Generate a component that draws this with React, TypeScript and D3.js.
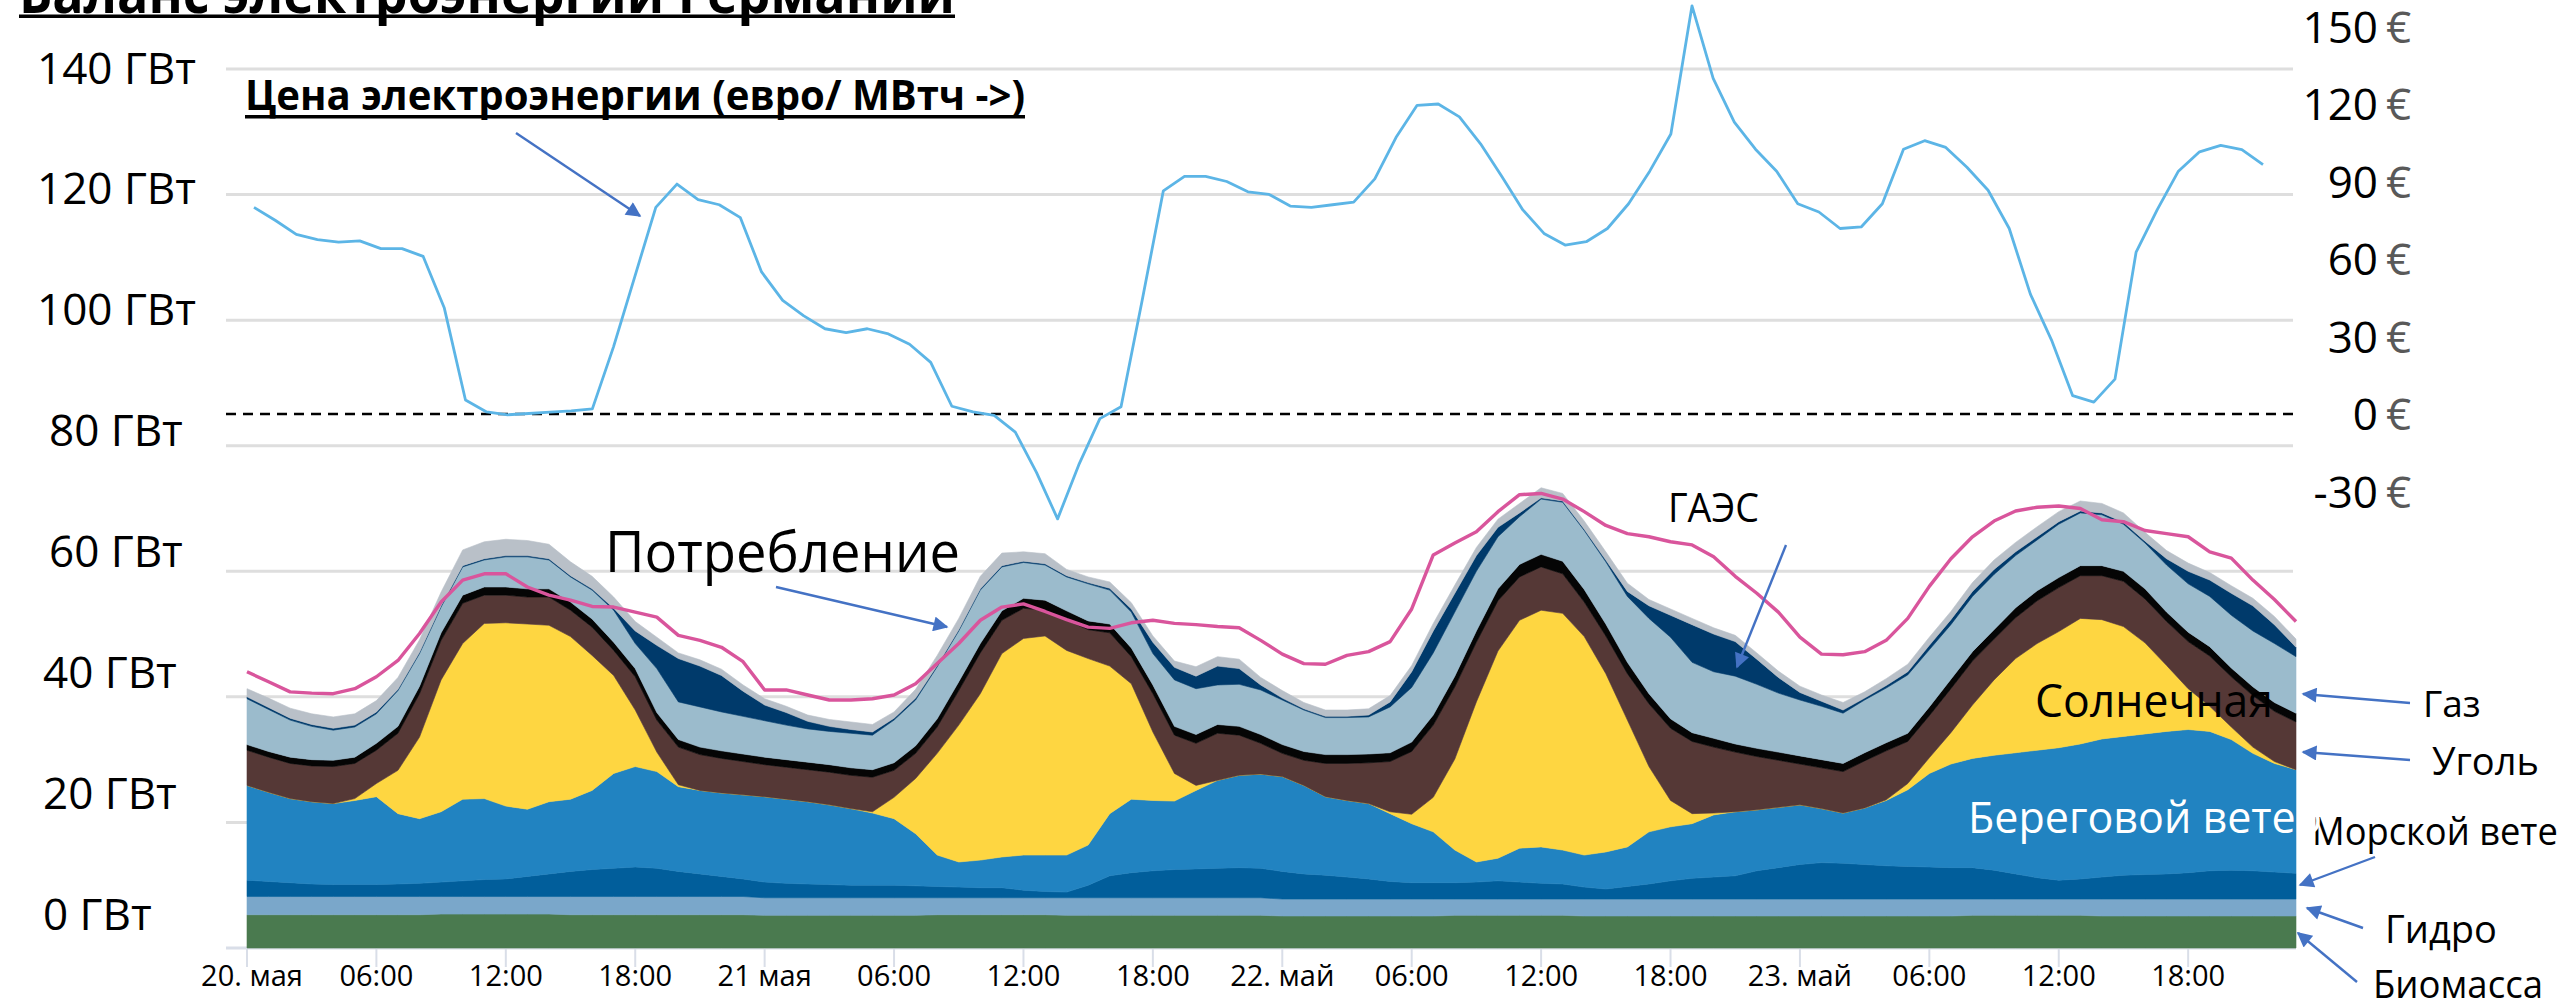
import React from 'react';
import * as d3 from 'd3';

// hourly data, 20.05 00:00 .. 23.05 23:00 (GW)
const hours = d3.range(96);

const biomass = [
  5.3, 5.3, 5.3, 5.3, 5.3, 5.3, 5.3, 5.3, 5.3, 5.4, 5.4, 5.4, 5.4, 5.4, 5.4, 5.3, 5.3, 5.3, 5.3, 5.3, 5.3, 5.3, 5.3, 5.3,
  5.2, 5.2, 5.2, 5.2, 5.2, 5.2, 5.2, 5.2, 5.3, 5.3, 5.3, 5.3, 5.3, 5.3, 5.2, 5.2, 5.2, 5.2, 5.2, 5.2, 5.2, 5.2, 5.2, 5.2,
  5.1, 5.1, 5.1, 5.1, 5.1, 5.1, 5.1, 5.1, 5.2, 5.2, 5.2, 5.2, 5.2, 5.2, 5.1, 5.1, 5.1, 5.1, 5.1, 5.1, 5.1, 5.1, 5.1, 5.1,
  5.1, 5.1, 5.1, 5.1, 5.1, 5.1, 5.1, 5.1, 5.2, 5.2, 5.2, 5.2, 5.2, 5.2, 5.1, 5.1, 5.1, 5.1, 5.1, 5.1, 5.1, 5.1, 5.1, 5.1,
];
const hydro = [
  2.9, 2.9, 2.9, 2.9, 2.9, 2.9, 2.9, 2.9, 2.9, 2.8, 2.8, 2.8, 2.8, 2.8, 2.8, 2.9, 2.9, 2.9, 2.9, 2.9, 2.9, 2.9, 2.9, 2.9,
  2.8, 2.8, 2.8, 2.8, 2.8, 2.8, 2.8, 2.8, 2.7, 2.7, 2.7, 2.7, 2.7, 2.7, 2.8, 2.8, 2.8, 2.8, 2.8, 2.8, 2.8, 2.8, 2.8, 2.8,
  2.7, 2.7, 2.7, 2.7, 2.7, 2.7, 2.7, 2.7, 2.6, 2.6, 2.6, 2.6, 2.6, 2.6, 2.7, 2.7, 2.7, 2.7, 2.7, 2.7, 2.7, 2.7, 2.7, 2.7,
  2.7, 2.7, 2.7, 2.7, 2.7, 2.7, 2.7, 2.7, 2.6, 2.6, 2.6, 2.6, 2.6, 2.6, 2.7, 2.7, 2.7, 2.7, 2.7, 2.7, 2.7, 2.7, 2.7, 2.7,
];
const offshore = [
  2.6, 2.4, 2.2, 2.0, 1.9, 1.9, 1.9, 2.0, 2.1, 2.3, 2.5, 2.7, 2.8, 3.2, 3.6, 4.0, 4.3, 4.5, 4.7, 4.5, 4.0, 3.6, 3.2, 2.8,
  2.5, 2.3, 2.2, 2.1, 2.0, 2.0, 2.0, 1.9, 1.8, 1.7, 1.6, 1.6, 1.2, 1.0, 0.9, 2.0, 3.5, 4.0, 4.3, 4.5, 4.6, 4.7, 4.8, 4.7,
  4.4, 4.0, 3.8, 3.5, 3.2, 2.8, 2.6, 2.6, 2.6, 2.7, 2.9, 2.7, 2.5, 2.4, 1.9, 1.6, 2.0, 2.4, 2.9, 3.3, 3.5, 3.7, 4.5, 5.0,
  5.5, 5.8, 5.7, 5.5, 5.3, 5.2, 5.1, 5.0, 5.0, 4.6, 4.0, 3.4, 3.0, 3.2, 3.5, 3.8, 3.9, 4.0, 4.2, 4.5, 4.6, 4.5, 4.3, 4.1,
];
const onshore = [
  15.1, 14.2, 13.4, 13.1, 12.9, 13.4, 14.0, 11.2, 10.3, 11.2, 13.0, 12.9, 11.6, 10.7, 11.5, 11.5, 12.6, 15.1, 16.0, 15.4, 13.5, 13.3, 13.3, 13.4,
  13.6, 13.4, 13.1, 12.7, 12.2, 11.5, 10.6, 8.3, 5.0, 4.0, 4.4, 4.9, 5.6, 5.8, 5.9, 6.4, 9.9, 11.7, 11.2, 10.9, 12.5, 14.0, 14.7, 15.0,
  15.1, 14.1, 12.5, 12.2, 12.0, 10.8, 9.4, 8.1, 5.2, 3.2, 3.6, 5.4, 5.8, 5.4, 5.1, 5.9, 6.3, 8.3, 8.6, 8.7, 9.9, 10.2, 9.7, 9.6,
  9.5, 8.6, 8.0, 9.0, 10.4, 12.2, 14.9, 16.5, 17.4, 18.3, 19.3, 20.3, 21.1, 21.5, 22.0, 22.1, 22.4, 22.7, 22.8, 22.2, 20.8, 18.7, 17.3, 16.5,
];
const solar = [
  0, 0, 0, 0, 0, 0.3, 2.1, 6.9, 13.0, 21.0, 24.8, 27.9, 29.2, 29.5, 28.1, 25.9, 21.5, 15.6, 9.0, 3.1, 0.3, 0, 0, 0,
  0, 0, 0, 0, 0, 0.2, 3.4, 8.8, 16.2, 21.8, 26.5, 32.4, 34.5, 34.9, 32.6, 29.7, 23.5, 18.4, 10.9, 4.4, 0.8, 0, 0, 0,
  0, 0, 0, 0, 0, 0.3, 1.5, 5.5, 14.5, 25.5, 33.0, 36.3, 37.7, 37.7, 34.8, 28.4, 20.2, 10.4, 4.2, 1.6, 0.3, 0, 0, 0,
  0, 0, 0, 0, 0.1, 1.0, 2.5, 5.0, 8.5, 12.0, 15.0, 17.0, 18.5, 20.0, 19.0, 17.5, 14.5, 10.5, 6.5, 4.0, 2.0, 1.0, 0.3, 0,
];
const lignite = [
  5.6, 5.6, 5.6, 5.7, 5.9, 5.6, 5.3, 5.9, 6.9, 6.3, 6.4, 4.5, 4.4, 4.3, 4.5, 4.2, 4.5, 4.0, 5.3, 5.1, 6.0, 5.7, 5.5, 5.3,
  5.1, 5.1, 5.1, 5.2, 5.3, 5.5, 4.3, 4.0, 4.2, 5.5, 6.5, 5.3, 4.8, 4.1, 4.8, 4.6, 5.3, 4.3, 6.1, 6.1, 6.7, 7.5, 6.4, 4.9,
  3.7, 4.0, 5.3, 5.9, 6.5, 8.0, 10.0, 11.5, 11.5, 9.5, 8.0, 6.9, 6.9, 6.3, 5.5, 6.0, 7.4, 10.0, 11.5, 11.5, 10.5, 9.5, 8.5, 7.5,
  6.5, 6.5, 6.6, 7.5, 7.8, 6.7, 6.7, 7.0, 7.0, 6.5, 6.5, 6.8, 7.0, 6.8, 7.0, 7.2, 7.0, 7.0, 7.5, 8.0, 8.0, 8.2, 8.0, 7.6,
];
const hardCoal = [
  0.9, 0.9, 1.0, 1.0, 1.0, 1.0, 1.1, 1.1, 1.2, 1.2, 1.3, 1.3, 1.3, 1.3, 1.3, 1.3, 1.3, 1.3, 1.3, 1.2, 1.2, 1.2, 1.2, 1.2,
  1.2, 1.2, 1.2, 1.2, 1.2, 1.2, 1.2, 1.2, 1.3, 1.4, 1.5, 1.5, 1.6, 1.6, 1.5, 1.4, 1.4, 1.4, 1.4, 1.4, 1.4, 1.4, 1.4, 1.4,
  1.4, 1.4, 1.4, 1.4, 1.4, 1.4, 1.5, 1.6, 1.7, 1.8, 1.9, 2.0, 2.0, 2.0, 2.0, 1.9, 1.8, 1.6, 1.5, 1.4, 1.4, 1.3, 1.3, 1.3,
  1.3, 1.3, 1.3, 1.3, 1.3, 1.3, 1.4, 1.5, 1.5, 1.5, 1.6, 1.6, 1.6, 1.6, 1.6, 1.6, 1.6, 1.5, 1.5, 1.5, 1.4, 1.4, 1.4, 1.4,
];
const gas = [
  7.3, 6.7, 5.9, 5.3, 4.8, 4.8, 4.7, 5.7, 5.2, 4.1, 4.5, 4.3, 4.8, 5.1, 4.6, 4.0, 4.6, 5.1, 4.0, 7.0, 6.0, 6.4, 6.2, 6.0,
  5.8, 5.5, 5.3, 5.3, 5.5, 5.5, 6.8, 7.3, 8.3, 8.1, 8.5, 7.0, 5.7, 5.6, 5.4, 5.9, 5.4, 5.7, 5.0, 7.4, 7.3, 6.3, 6.7, 7.1,
  7.1, 6.6, 5.9, 5.9, 5.9, 7.3, 8.7, 9.9, 10.2, 9.5, 8.3, 7.6, 8.8, 9.4, 9.4, 9.9, 10.5, 12.0, 13.0, 11.2, 10.6, 10.8, 10.2, 9.4,
  8.9, 8.5, 8.0, 8.4, 8.7, 9.3, 9.1, 8.7, 8.8, 8.8, 8.3, 8.1, 8.5, 8.4, 8.1, 7.5, 7.3, 7.5, 7.7, 8.0, 8.4, 8.9, 9.4, 9.0,
];
const pumpedStorage = [
  0.3, 0.3, 0.3, 0.3, 0.3, 0.3, 0.3, 0.2, 0.2, 0.2, 0.2, 0.2, 0.2, 0.2, 0.2, 0.2, 0.2, 0.3, 2.0, 3.7, 6.9, 6.5, 5.8, 4.0,
  2.5, 2.0, 1.2, 0.8, 0.6, 0.5, 0.3, 0.3, 0.2, 0.2, 0.2, 0.2, 0.2, 0.2, 0.2, 0.2, 0.3, 0.5, 1.8, 2.0, 2.0, 3.0, 2.5, 0.8,
  0.3, 0.2, 0.2, 0.2, 0.3, 0.8, 2.5, 3.5, 3.0, 2.5, 1.5, 0.6, 0.2, 0.2, 0.2, 0.3, 0.8, 2.0, 3.5, 6.0, 6.0, 5.5, 4.0, 2.5,
  1.2, 0.8, 0.5, 0.3, 0.4, 0.5, 0.7, 0.8, 0.8, 0.8, 0.6, 0.5, 0.4, 0.3, 0.3, 0.3, 0.3, 1.0, 2.0, 2.6, 3.5, 4.0, 3.0, 1.5,
];
const other = [
  1.3, 1.5, 1.6, 1.7, 1.8, 1.8, 1.8, 1.9, 2.0, 2.2, 2.5, 2.7, 2.6, 2.4, 2.3, 2.2, 2.0, 1.8, 1.5, 1.3, 0.9, 1.0, 1.0, 1.0,
  1.0, 1.0, 1.0, 1.1, 1.2, 1.2, 1.0, 1.4, 1.6, 1.8, 2.0, 2.0, 1.5, 1.6, 1.0, 0.9, 1.0, 1.0, 1.0, 1.0, 1.5, 1.5, 1.5, 1.2,
  1.2, 1.0, 1.0, 1.0, 1.0, 1.0, 1.0, 1.2, 1.3, 1.3, 1.3, 1.5, 1.6, 1.2, 1.3, 1.3, 1.3, 1.0, 1.0, 1.0, 1.0, 1.0, 1.0, 1.0,
  1.0, 1.0, 1.2, 1.0, 1.1, 1.2, 1.3, 1.3, 1.4, 1.5, 1.5, 1.6, 1.6, 1.6, 1.5, 1.5, 1.4, 1.3, 1.3, 1.2, 1.2, 1.2, 1.3, 1.3,
];
const consumption = [
  44.0, 42.4, 40.8, 40.6, 40.5, 41.3, 43.2, 45.8, 50.1, 55.1, 58.6, 59.6, 59.6, 57.5, 56.2, 55.4, 54.4, 54.3, 53.5, 52.7, 49.8, 49.0, 47.9, 45.6,
  41.1, 41.1, 40.3, 39.5, 39.5, 39.7, 40.3, 42.1, 45.3, 48.5, 52.2, 54.3, 54.8, 53.6, 52.3, 51.1, 50.9, 51.8, 52.2, 51.7, 51.5, 51.2, 51.0, 49.0,
  46.8, 45.3, 45.2, 46.6, 47.2, 48.8, 54.0, 62.6, 64.5, 66.3, 69.5, 72.2, 72.4, 71.5, 69.5, 67.3, 66.0, 65.5, 64.7, 64.2, 62.3, 59.2, 56.5, 53.5,
  49.5, 46.8, 46.7, 47.2, 49.0, 52.5, 57.6, 62.0, 65.5, 68.0, 69.6, 70.2, 70.4, 70.0, 68.2, 67.9, 66.5, 66.0, 65.5, 63.1, 62.1, 58.6, 55.5, 52.0,
];
// EUR / MWh
const price = [
  80, 75, 69.5, 67.5, 66.5, 67, 64, 64, 61, 41, 5.4, 0.8, -0.3, 0.2, 0.7, 1.2, 2, 26, 53, 80, 89, 83, 81, 76,
  55, 44, 38, 33, 31.5, 33, 31, 27, 20, 3, 0.8, -0.5, -7, -22.6, -40.6, -19.7, -1.8, 2.8, 44, 86.4, 92, 92, 90, 86,
  85, 80.5, 80, 81, 82, 91, 107, 119.5, 120, 115, 104.6, 92, 79, 69.9, 65.4, 66.7, 71.8, 81.4, 94, 108.4, 158, 129.9, 113, 102.5,
  94, 81.4, 78.2, 71.8, 72.4, 81.4, 102.5, 105.8, 103.2, 95.5, 86.6, 71.8, 46.4, 28.6, 7.1, 4.6, 13.5, 62.7, 79.1, 94, 101.5, 104, 102.3, 96.5,
];

const tickHours = [0, 6, 12, 18, 24, 30, 36, 42, 48, 54, 60, 66, 72, 78, 84, 90];
const tickLabels = ['20. мая', '06:00', '12:00', '18:00', '21 мая', '06:00', '12:00', '18:00',
  '22. май', '06:00', '12:00', '18:00', '23. май', '06:00', '12:00', '18:00'];
const gwTicks = [0, 20, 40, 60, 80, 100, 120, 140];
const priceTicks = [-30, 0, 30, 60, 90, 120, 150];

const seriesData = { biomass, hydro, offshore, onshore, solar, lignite, hardCoal, gas, pumpedStorage, other };
const keys = ['biomass', 'hydro', 'offshore', 'onshore', 'solar', 'lignite', 'hardCoal', 'gas', 'pumpedStorage', 'other'];
const colors = {
  biomass: '#4A7A4F',
  hydro: '#7AA7CA',
  offshore: '#015E9B',
  onshore: '#2183C1',
  solar: '#FED641',
  lignite: '#553836',
  hardCoal: '#050505',
  gas: '#9BBBCC',
  pumpedStorage: '#003A6B',
  other: '#B9C0C8',
};

const FONT = "'Open Sans', 'Noto Sans', sans-serif";
const ARROW = '#4472C4';

export default function App() {
  const x = d3.scaleLinear().domain([0, 95]).range([247, 2296]);
  const y = d3.scaleLinear().domain([0, 140]).range([948, 69]);
  const xPrice = d3.scaleLinear().domain([0, 95]).range([254, 2263]);
  const yPrice = d3.scaleLinear().domain([-30, 150]).range([491.5, 26.5]);
  // the GW labels sit on a slightly tighter spacing than the gridlines
  const yLabel = d3.scaleLinear().domain([0, 140]).range([914, 68]);
  // hand-placed label boxes: three-digit ones further left, 60/80 indented
  const labelX = v => (v >= 100 ? 37 : v >= 60 ? 49 : 43);

  const rows = hours.map((h, i) => {
    const r = { hour: h };
    keys.forEach(k => { r[k] = seriesData[k][i] ?? 0; });
    return r;
  });
  const stacked = d3.stack().keys(keys)(rows);

  const area = d3.area()
    .x(d => x(d.data.hour))
    .y0(d => y(d[0]))
    .y1(d => y(d[1]));

  const consLine = d3.line().x((d, i) => x(hours[i])).y(d => y(d));
  const priceLine = d3.line().x((d, i) => xPrice(hours[i])).y(d => yPrice(d));

  const arrows = [
    [516, 133, 640, 216],
    [776, 587, 947, 627],
    [1786, 545, 1737, 667],
    [2410, 703, 2303, 694],
    [2410, 760, 2303, 752],
    [2375, 857, 2300, 885],
    [2363, 928, 2307, 908],
    [2357, 982, 2298, 933],
  ];

  return (
    <svg width={2560} height={1008} style={{ position: 'absolute', left: 0, top: 0, background: '#fff' }}
      fontFamily={FONT}>
      <defs>
        <marker id="ah" viewBox="0 0 10 10" refX="9" refY="5" markerWidth="17" markerHeight="15"
          markerUnits="userSpaceOnUse" orient="auto">
          <path d="M0,0 L10,5 L0,10 z" fill={ARROW} />
        </marker>
      </defs>

      {/* gridlines */}
      {gwTicks.filter(v => v > 0).map(v => (
        <line key={v} x1={226} x2={2293} y1={y(v)} y2={y(v)} stroke="#DEDEDE" strokeWidth={3} />
      ))}
      <line x1={226} x2={2296} y1={y(0)} y2={y(0)} stroke="#D9DEE8" strokeWidth={3} />
      {tickHours.map(h => (
        <line key={h} x1={x(h)} x2={x(h)} y1={y(0)} y2={967} stroke="#D9DEE8" strokeWidth={2} />
      ))}

      {/* zero price */}
      <line x1={226} x2={2293} y1={yPrice(0)} y2={yPrice(0)} stroke="#000" strokeWidth={2.5} strokeDasharray="10 7" />

      {/* stacked generation */}
      {stacked.map(s => (
        <path key={s.key} d={area(s)} fill={colors[s.key]} stroke={colors[s.key]} strokeWidth={0.6} />
      ))}

      <path d={consLine(consumption)} fill="none" stroke="#D9559C" strokeWidth={3.4} strokeLinejoin="round" />
      <path d={priceLine(price)} fill="none" stroke="#5CB5E6" strokeWidth={2.8} strokeLinejoin="round" />

      {/* left axis labels */}
      {gwTicks.map(v => (
        <text key={v} x={labelX(v)} y={yLabel(v) + 15.5} fontSize={44} fill="#000">{`${v} ГВт`}</text>
      ))}

      {/* right axis labels */}
      {priceTicks.map(v => (
        <g key={v}>
          <text x={2378} y={yPrice(v) + 16} fontSize={44} textAnchor="end" fill="#000">{v}</text>
          <text x={2386} y={yPrice(v) + 16} fontSize={44} fill="#595959">€</text>
        </g>
      ))}

      {/* x axis labels */}
      {tickHours.map((h, i) => (
        <text key={h} x={x(h) + (i === 0 ? 5 : 0)} y={986} fontSize={29} textAnchor="middle" fill="#000">
          {tickLabels[i]}
        </text>
      ))}

      {/* titles */}
      <text x={19} y={13} fontSize={56} fontWeight="bold" textLength={936} lengthAdjust="spacingAndGlyphs">
        Баланс электроэнергии Германии
      </text>
      <rect x={19} y={14.5} width={936} height={3.5} fill="#000" />
      <text x={245} y={110} fontSize={42} fontWeight="bold" textLength={780} lengthAdjust="spacingAndGlyphs">
        Цена электроэнергии (евро/ МВтч -&gt;)
      </text>
      <rect x={245} y={115} width={780} height={3.5} fill="#000" />

      {/* annotations */}
      <text x={605} y={572} fontSize={56} textLength={355} lengthAdjust="spacingAndGlyphs">Потребление</text>
      <text x={1668} y={522} fontSize={40} textLength={91} lengthAdjust="spacingAndGlyphs">ГАЭС</text>
      <text x={2035} y={717} fontSize={45} textLength={238} lengthAdjust="spacingAndGlyphs">Солнечная</text>
      <text x={2312} y={845} fontSize={38} textLength={268} lengthAdjust="spacingAndGlyphs">Морской ветер</text>
      <text x={1968} y={833} fontSize={44} fill="#fff" textLength={354} lengthAdjust="spacingAndGlyphs">Береговой ветер</text>
      <text x={2423} y={717} fontSize={37}>Газ</text>
      <text x={2432} y={775} fontSize={38}>Уголь</text>
      <text x={2385} y={943} fontSize={38}>Гидро</text>
      <text x={2373} y={998} fontSize={38} textLength={170} lengthAdjust="spacingAndGlyphs">Биомасса</text>

      {arrows.map((a, i) => (
        <line key={i} x1={a[0]} y1={a[1]} x2={a[2]} y2={a[3]} stroke={ARROW} strokeWidth={2.4} markerEnd="url(#ah)" />
      ))}
    </svg>
  );
}
